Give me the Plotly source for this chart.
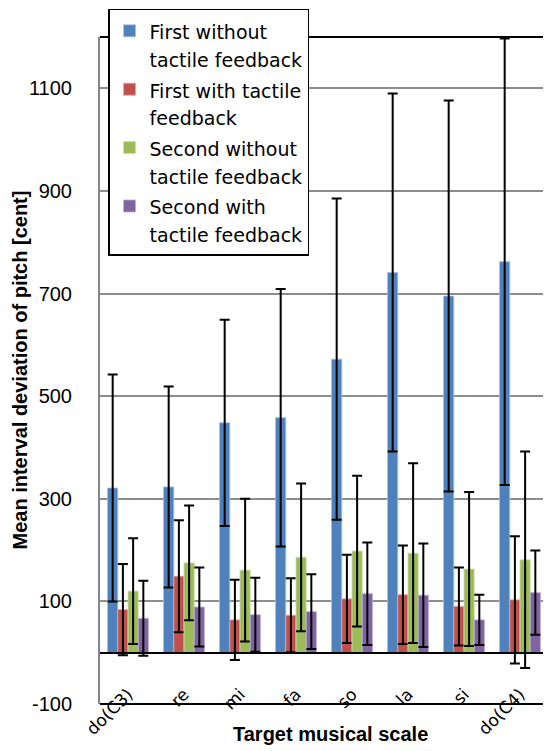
import plotly.graph_objects as go

categories = ["do(C3)", "re", "mi", "fa", "so", "la", "si", "do(C4)"]

series_names = [
    "First without<br>tactile feedback",
    "First with tactile<br>feedback",
    "Second without<br>tactile feedback",
    "Second with<br>tactile feedback",
]

first_without = [321, 323, 448, 458, 572, 741, 695, 762]
first_without_err = [221, 196, 201, 251, 313, 349, 381, 435]

first_with = [84, 149, 64, 73, 105, 113, 90, 103]
first_with_err = [89, 109, 78, 72, 86, 96, 76, 124]

second_without = [120, 175, 161, 186, 198, 194, 163, 181]
second_without_err = [103, 112, 139, 144, 147, 175, 150, 211]

second_with = [67, 89, 74, 80, 115, 112, 64, 117]
second_with_err = [73, 77, 72, 73, 100, 101, 49, 82]

y_ticks = [-100, 100, 300, 500, 700, 900, 1100]
y_tick_labels = ["-100", "100", "300", "500", "700", "900", "1100"]
y_min, y_max = -100, 1200

x_title = "Target musical scale"
y_title = "Mean interval deviation of pitch [cent]"

colors = ["#4F81BD", "#C0504D", "#9BBB59", "#8064A2"]
edge_colors = ["#A7C0DE", "#E0A8A6", "#CDDDAC", "#BFB1D0"]

values = [first_without, first_with, second_without, second_with]
errors = [first_without_err, first_with_err, second_without_err, second_with_err]

fig = go.Figure()
for i in range(4):
    fig.add_trace(go.Bar(
        x=categories,
        y=values[i],
        name='<span style="font-size:19px">%s</span>' % series_names[i],
        legendgroup="g%d" % i,
        marker=dict(color=colors[i], line=dict(color=edge_colors[i], width=0.8)),
        error_y=dict(type="data", array=errors[i], visible=True,
                     color="black", thickness=2, width=5),
    ))

zero_pos = (0 - y_min) / (y_max - y_min)

# the page body has an 8px margin; the margins below compensate for it
fig.update_layout(
    width=551,
    height=751,
    margin=dict(l=92, r=11, t=29, b=55, autoexpand=False),
    paper_bgcolor="white",
    plot_bgcolor="white",
    barmode="group",
    bargap=0.27,
    bargroupgap=0,
    font=dict(family="Liberation Sans", size=20, color="black"),
    showlegend=True,
    legend=dict(
        x=0.018, y=1.042, xanchor="left", yanchor="top",
        bgcolor="white", bordercolor="black", borderwidth=1.5,
        font=dict(family="DejaVu Sans", size=21.3, color="black"),
        traceorder="grouped", tracegroupgap=0, valign="top",
    ),
    xaxis=dict(
        type="category",
        anchor="free",
        position=zero_pos,
        showline=True, linecolor="black", linewidth=2,
        showgrid=False, zeroline=False,
        ticks="outside", ticklen=24, tickcolor="rgba(0,0,0,0)",
        tickangle=-45,
        tickfont=dict(family="DejaVu Sans", size=17, color="black"),
        automargin=False,
    ),
    yaxis=dict(
        range=[y_min, y_max],
        tickvals=y_ticks,
        ticktext=y_tick_labels,
        showgrid=True, gridcolor="#8C8C8C", gridwidth=1.5,
        zeroline=False,
        showline=True, linecolor="#868686", linewidth=2,
        ticks="",
        ticklabelstandoff=22,
        tickfont=dict(family="Liberation Sans", size=20, color="black"),
        automargin=False,
    ),
    annotations=[
        dict(text="<b>%s</b>" % x_title, xref="paper", yref="paper",
             x=(330 - 100) / 448, y=(704 - 734) / 667,
             xanchor="center", yanchor="middle", showarrow=False,
             font=dict(family="Liberation Sans", size=20, color="black")),
        dict(text="<b>%s</b>" % y_title, xref="paper", yref="paper",
             x=(19 - 100) / 448, y=0.5, textangle=-90,
             xanchor="center", yanchor="middle", showarrow=False,
             font=dict(family="Liberation Sans", size=20, color="black")),
    ],
    shapes=[
        dict(type="line", xref="paper", yref="paper", x0=0, x1=1, y0=1, y1=1,
             line=dict(color="black", width=2)),
        dict(type="line", xref="paper", yref="paper", x0=0, x1=1, y0=0, y1=0,
             line=dict(color="black", width=2)),
        dict(type="line", xref="paper", yref="paper", x0=1, x1=1, y0=0, y1=1,
             line=dict(color="#D0D0D0", width=1.5)),
    ],
)

fig.write_html("out.html")
